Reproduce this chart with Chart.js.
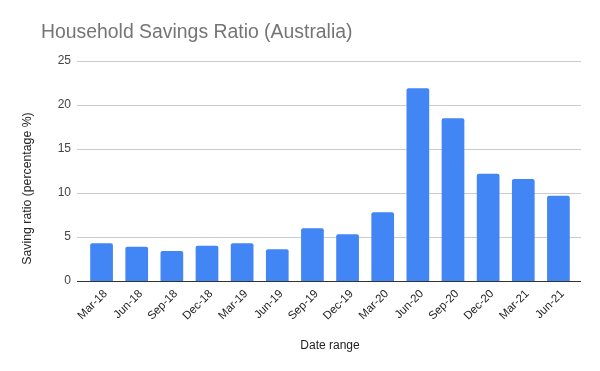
<!DOCTYPE html>
<html>
<head>
<meta charset="utf-8">
<script src="https://cdn.jsdelivr.net/npm/chart.js@4/dist/chart.umd.min.js"></script>
<style>
  html, body { margin: 0; padding: 0; background: #fff; }
  #wrap { width: 600px; height: 371px; position: relative; }
</style>
</head>
<body>
<div id="wrap"><canvas id="savingsChart"></canvas></div>
<script>
const quarters = ['Mar-18', 'Jun-18', 'Sep-18', 'Dec-18', 'Mar-19', 'Jun-19', 'Sep-19',
  'Dec-19', 'Mar-20', 'Jun-20', 'Sep-20', 'Dec-20', 'Mar-21', 'Jun-21'];
const savingRatio = [4.3, 3.9, 3.4, 4.0, 4.3, 3.6, 6.0, 5.3, 7.8, 21.9, 18.5, 12.2, 11.6, 9.7];
const yTicks = [0, 5, 10, 15, 20, 25];

const FONT = '"Liberation Sans", Arial, sans-serif';

// gridlines run a little past the bars on both sides, as in sheets
const gridPlugin = {
  id: 'wideGrid',
  beforeDatasetsDraw(chart) {
    const { ctx, chartArea, scales } = chart;
    const x0 = chartArea.left - 7;
    const x1 = chartArea.right + 5;
    ctx.save();
    ctx.lineWidth = 1;
    yTicks.forEach(v => {
      if (v === 0) return;
      const y = Math.round(scales.y.getPixelForValue(v)) + 0.5;
      ctx.strokeStyle = '#cccccc';
      ctx.beginPath();
      ctx.moveTo(x0, y);
      ctx.lineTo(x1, y);
      ctx.stroke();
    });
    ctx.restore();
  },
  afterDatasetsDraw(chart) {
    const { ctx, chartArea, scales } = chart;
    const y = Math.round(scales.y.getPixelForValue(0)) + 0.5;
    ctx.save();
    ctx.strokeStyle = '#333333';
    ctx.lineWidth = 1;
    ctx.beginPath();
    ctx.moveTo(chartArea.left - 7, y);
    ctx.lineTo(chartArea.right + 5, y);
    ctx.stroke();
    ctx.restore();
  }
};

// chart title and y title drawn by hand, placed like the sheets export
const textPlugin = {
  id: 'sheetTexts',
  afterDraw(chart) {
    const ctx = chart.ctx;
    ctx.save();
    ctx.font = '19.4px ' + FONT;
    ctx.fillStyle = '#757575';
    ctx.textBaseline = 'alphabetic';
    ctx.fillText('Household Savings Ratio (Australia)', 41, 38);

    ctx.translate(27.5, 188.5);
    ctx.rotate(-Math.PI / 2);
    ctx.font = '12.3px ' + FONT;
    ctx.fillStyle = '#222222';
    ctx.textAlign = 'center';
    ctx.textBaseline = 'middle';
    ctx.fillText('Saving ratio (percentage %)', 0, 0);
    ctx.restore();
  }
};

const ctx = document.getElementById('savingsChart').getContext('2d');
new Chart(ctx, {
  type: 'bar',
  data: {
    labels: quarters,
    datasets: [{
      label: 'Saving ratio',
      data: savingRatio,
      backgroundColor: '#4285f4',
      borderRadius: 2,
      borderSkipped: 'bottom',
      barPercentage: 0.646,
      categoryPercentage: 1.0
    }]
  },
  options: {
    responsive: true,
    maintainAspectRatio: false,
    animation: false,
    layout: { padding: { left: 20, right: 24, top: 61, bottom: 18 } },
    plugins: {
      legend: { display: false },
      tooltip: { enabled: false }
    },
    scales: {
      y: {
        min: 0,
        max: 25,
        afterBuildTicks(scale) { scale.ticks = yTicks.map(v => ({ value: v })); },
        afterFit(scale) { scale.width = 64; },
        grid: { display: false, drawTicks: false },
        border: { display: false },
        ticks: { color: '#444444', font: { family: FONT, size: 12 }, padding: 13 },
      },
      x: {
        afterFit(scale) { scale.height = 72; },
        grid: { display: false, drawTicks: false },
        border: { display: false },
        ticks: {
          color: '#222222',
          font: { family: FONT, size: 11.5 },
          maxRotation: 45,
          minRotation: 45,
          autoSkip: false,
          labelOffset: 4,
          padding: 6
        },
        title: {
          display: true,
          text: 'Date range',
          color: '#222222',
          font: { family: FONT, size: 12 },
          padding: { top: 0, bottom: 0 }
        }
      }
    }
  },
  plugins: [gridPlugin, textPlugin]
});
</script>
</body>
</html>
